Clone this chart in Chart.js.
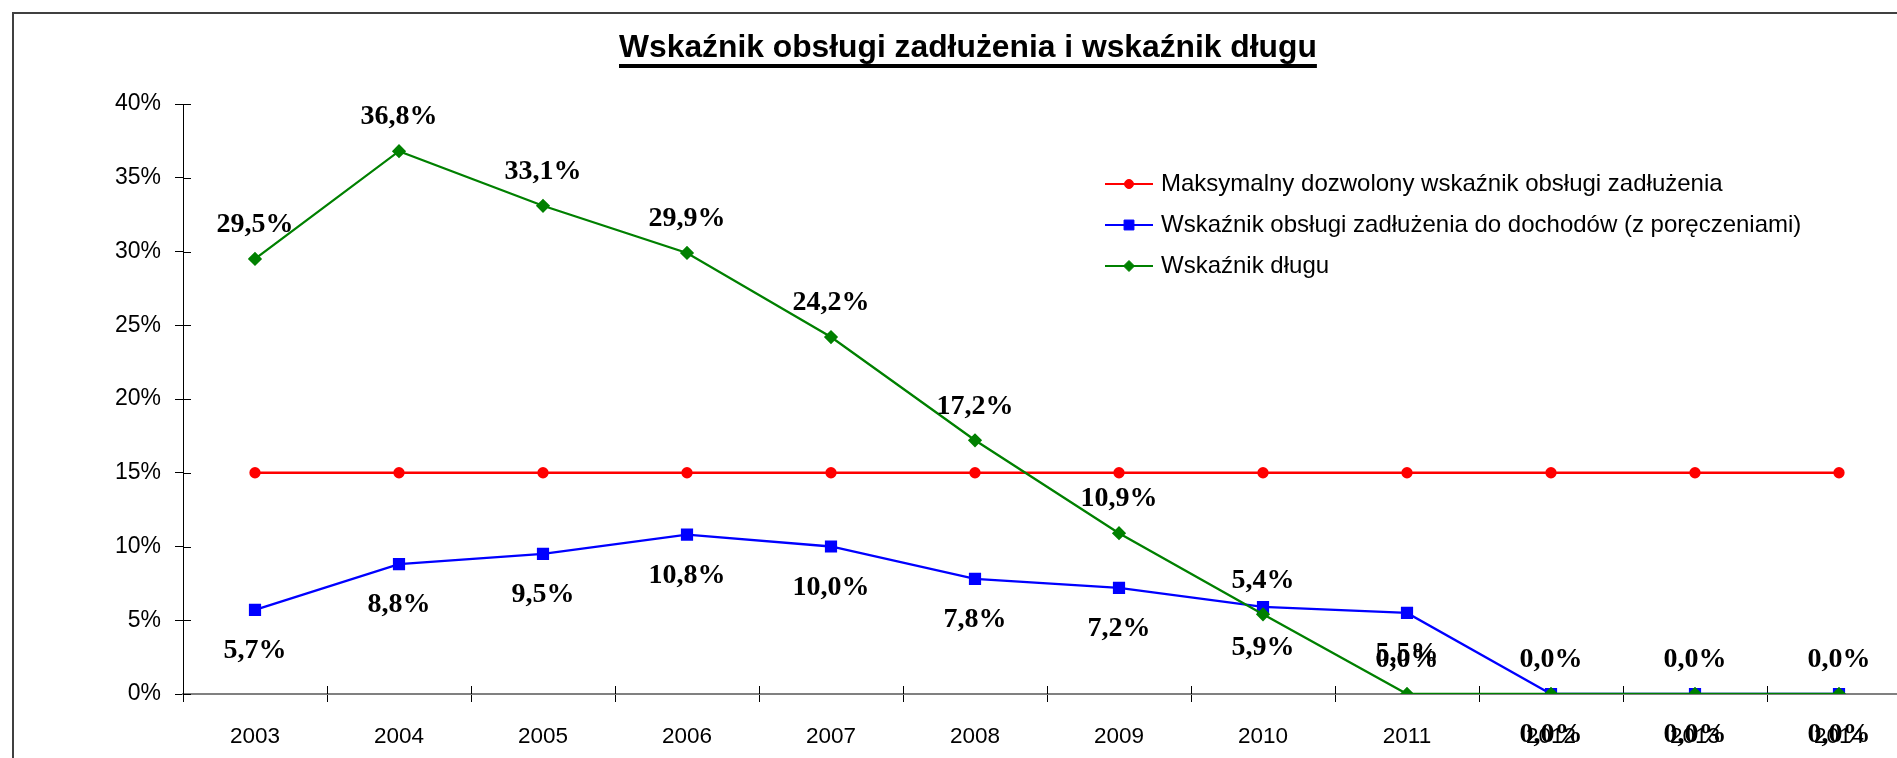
<!DOCTYPE html>
<html><head><meta charset="utf-8">
<script src="https://cdn.jsdelivr.net/npm/chart.js@4/dist/chart.umd.min.js"></script>
<style>
html,body{margin:0;padding:0;background:#fff;overflow:hidden;width:1897px;height:758px;}
#frame{position:absolute;left:12px;top:12px;width:2000px;height:900px;border:2px solid #404040;box-sizing:border-box;}
#title{position:absolute;left:619px;top:28px;line-height:1;font:bold 31.8px "Liberation Sans",Arial,sans-serif;text-decoration:underline;text-decoration-thickness:4px;text-underline-offset:7px;color:#000;white-space:nowrap;z-index:2;}
#wrap{position:absolute;left:0;top:0;width:1940px;height:800px;z-index:1;}
</style></head><body>
<div id="frame"></div>
<div id="title">Wskaźnik obsługi zadłużenia i wskaźnik długu</div>
<div id="wrap"><canvas id="c"></canvas></div>
<script>
const years = ['2003','2004','2005','2006','2007','2008','2009','2010','2011','2012','2013','2014'];
const maxAllowed = [15,15,15,15,15,15,15,15,15,15,15,15];
const serviceRatio = [5.7,8.8,9.5,10.8,10.0,7.8,7.2,5.9,5.5,0,0,0];
const debtRatio = [29.5,36.8,33.1,29.9,24.2,17.2,10.9,5.4,0,0,0,0];
const seriesNames = [
  'Maksymalny dozwolony wskaźnik obsługi zadłużenia',
  'Wskaźnik obsługi zadłużenia do dochodów (z poręczeniami)',
  'Wskaźnik długu'
];
const yMin = 0, yMax = 40, yStep = 5;

const fmt = v => v.toFixed(1).replace('.', ',') + '%';

const valueLabels = {
  id: 'valueLabels',
  afterDatasetsDraw(chart) {
    const ctx = chart.ctx;
    ctx.save();
    ctx.font = 'bold 28px "Liberation Serif", "Times New Roman", serif';
    ctx.fillStyle = '#000';
    ctx.textAlign = 'center';
    ctx.textBaseline = 'middle';
    chart.data.datasets.forEach((ds, i) => {
      if (!ds.labelOffset) return;
      const meta = chart.getDatasetMeta(i);
      meta.data.forEach((pt, j) => {
        ctx.fillText(fmt(ds.data[j]), pt.x, pt.y + ds.labelOffset);
      });
    });
    ctx.restore();
  }
};

const boxLegend = {
  id: 'boxLegend',
  afterDraw(chart) {
    const ctx = chart.ctx;
    const LX = 1105, LY = 184, DY = 41, LW = 48;
    ctx.save();
    ctx.font = '24px "Liberation Sans", Arial, sans-serif';
    ctx.textBaseline = 'middle';
    ctx.textAlign = 'left';
    chart.data.datasets.forEach((ds, i) => {
      const y = LY + i * DY;
      ctx.strokeStyle = ds.borderColor;
      ctx.lineWidth = 2;
      ctx.beginPath(); ctx.moveTo(LX, y); ctx.lineTo(LX + LW, y); ctx.stroke();
      ctx.fillStyle = ds.pointBackgroundColor;
      ctx.strokeStyle = ds.pointBorderColor;
      ctx.lineWidth = 1;
      Chart.helpers.drawPoint(ctx, {pointStyle: ds.pointStyle, radius: ds.pointRadius, rotation: 0, borderWidth: 1}, LX + LW / 2, y);
      ctx.fillStyle = '#000';
      ctx.fillText(ds.label, LX + LW + 8, y);
    });
    ctx.restore();
  }
};

const crossTicks = {
  id: 'crossTicks',
  beforeDatasetsDraw(chart) {
    const {ctx, scales: {x, y}} = chart;
    ctx.save();
    ctx.lineWidth = 1;
    ctx.strokeStyle = '#000';
    ctx.beginPath();
    for (let i = 0; i <= years.length; i++) {
      const px = Math.round(x.getPixelForValue(i - 0.5)) + 0.5;
      ctx.moveTo(px, y.bottom); ctx.lineTo(px, y.bottom - 8);
    }
    y.ticks.forEach(t => {
      const py = Math.round(y.getPixelForValue(t.value)) + 0.5;
      ctx.moveTo(x.left, py); ctx.lineTo(x.left + 8, py);
    });
    ctx.stroke();
    ctx.restore();
  }
};

new Chart(document.getElementById('c'), {
  type: 'line',
  data: {
    labels: years,
    datasets: [
      {label: seriesNames[0], data: maxAllowed, borderColor: '#FF0000', backgroundColor: '#FF0000',
       pointBackgroundColor: '#FF0000', pointBorderColor: '#FF0000', pointStyle: 'circle', pointRadius: 4.5,
       borderWidth: 2.3, order: 2, labelOffset: 0},
      {label: seriesNames[1], data: serviceRatio, borderColor: '#0000FF', backgroundColor: '#0000FF',
       pointBackgroundColor: '#0000FF', pointBorderColor: '#0000FF', pointStyle: 'rect', pointRadius: 7,
       borderWidth: 2.3, order: 1, labelOffset: 41},
      {label: seriesNames[2], data: debtRatio, borderColor: '#008000', backgroundColor: '#008000',
       pointBackgroundColor: '#008000', pointBorderColor: '#008000', pointStyle: 'rectRot', pointRadius: 5.5,
       borderWidth: 2.3, order: 0, labelOffset: -34}
    ]
  },
  options: {
    responsive: true,
    maintainAspectRatio: false,
    animation: false,
    layout: {padding: {left: 22, top: 104, right: 29, bottom: 26}},
    elements: {line: {tension: 0}, point: {hoverRadius: 6}},
    plugins: {legend: {display: false}, title: {display: false}, tooltip: {enabled: false}},
    scales: {
      x: {
        type: 'category',
        offset: true,
        grid: {display: true, drawOnChartArea: false, drawTicks: true, tickLength: 8, color: '#000', offset: true},
        border: {display: true, color: '#808080', width: 2},
        ticks: {color: '#000', padding: 21, maxRotation: 0, autoSkip: false,
                font: {family: '"Liberation Sans", Arial, sans-serif', size: 22.5}},
        afterFit(s) { s.height = 80; }
      },
      y: {
        min: yMin, max: yMax,
        grid: {display: true, drawOnChartArea: false, drawTicks: true, tickLength: 8, color: '#000'},
        border: {display: true, color: '#000', width: 1},
        ticks: {stepSize: yStep, color: '#000', padding: 14, callback: v => v + '%',
                font: {family: '"Liberation Sans", Arial, sans-serif', size: 23}},
        afterFit(s) { s.width = 161; }
      }
    }
  },
  plugins: [crossTicks, valueLabels, boxLegend]
});
</script>
</body></html>
